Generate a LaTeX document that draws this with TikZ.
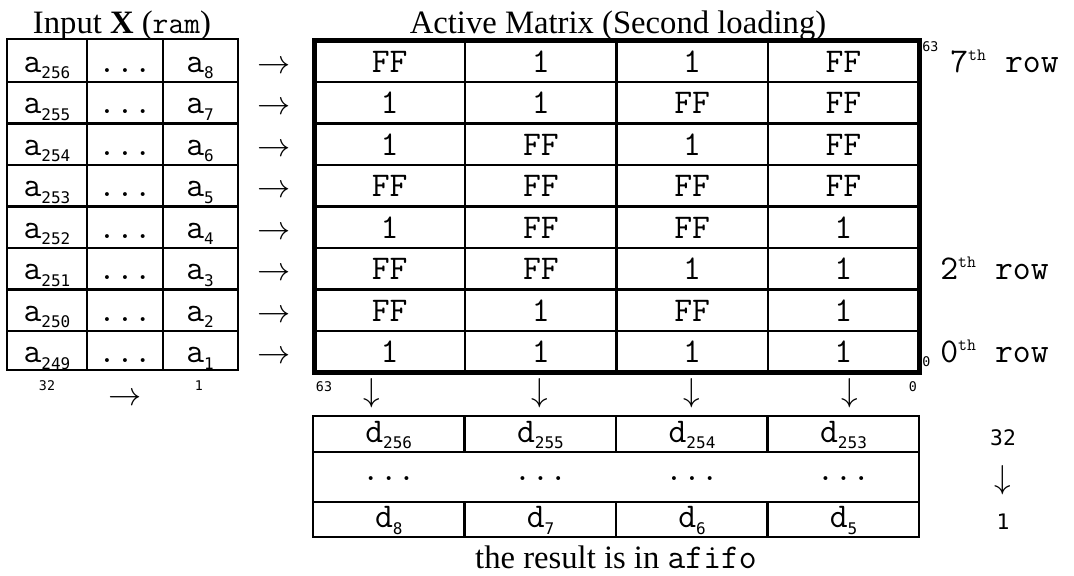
\documentclass[tikz,border=0pt]{standalone}
\usepackage{fontspec}
\setmainfont{Liberation Serif}
\newfontfamily\digitfont{DejaVu Sans Mono}
\newcommand\mono{\ttfamily}
\newcommand\cellfont{\ttfamily\fontsize{26}{26}\selectfont}
\newcommand\titlefont{\fontsize{24.5}{24.5}\selectfont}
\newcommand\idx[2]{#1\raisebox{-5pt}{\digitfont\fontsize{12}{12}\selectfont #2}}
\newcommand\tinynum[1]{{\digitfont\fontsize{10}{10}\selectfont #1}}
\newcommand\rowlabel[1]{#1\raisebox{9pt}{\ttfamily\fontsize{13}{13}\selectfont th}\hspace{0.55em}row}

\begin{document}
\begin{tikzpicture}[x=0.75pt, y=-0.75pt,
  thinline/.style={line width=1.6pt},
  thickline/.style={line width=3.75pt},
  celltext/.style={font=\cellfont, inner sep=0pt, anchor=base},
  symb/.style={font=\fontsize{26}{26}\selectfont, inner sep=0pt},
  smalllabel/.style={inner sep=0pt},
  title/.style={font=\titlefont, inner sep=0pt, anchor=base}]

\useasboundingbox (0,0) rectangle (1074,575);

% ---- titles ----
\node[title] (tin) at (122,33) {Input \textbf{X} ({\ttfamily\fontsize{23}{23}\selectfont ram})};
\node[title] (tmat) at (618,33) {Active Matrix (Second loading)};

% ---- input table ----
\foreach \r/\hi/\lo in {0/256/8,1/255/7,2/254/6,3/253/5,4/252/4,5/251/3,6/250/2,7/249/1}{
  \pgfmathsetmacro\yc{61.25+\r*41.5}
  \pgfmathsetmacro\yb{\yc+11}
  \node[celltext] (a\r) at (47,\yb) {\idx{a}{\hi}};
  \node[celltext] (dots\r) at (125,\yb) {...};
  \node[celltext] (b\r) at (200,\yb) {\idx{a}{\lo}};
  \node[symb] (ar\r) at (274,\yc+6) {$\rightarrow$};
}
\draw[thinline] (7,39) rectangle (238,370);
\draw[thinline] (87,39) -- (87,370) (163,39) -- (163,370);
\foreach \k in {0,...,6}{
  \draw[thinline] (7,82+\k*41.5) -- (238,82+\k*41.5);
}
\node[smalllabel] (in32) at (47,386) {\tinynum{32}};
\node[symb] (inarrow) at (125,399) {$\rightarrow$};
\node[smalllabel] (in1) at (199,386) {\tinynum{1}};

% ---- active matrix ----
\foreach \r/\ca/\cb/\cc/\cd in {0/FF/1/1/FF,1/1/1/FF/FF,2/1/FF/1/FF,3/FF/FF/FF/FF,
                                4/1/FF/FF/1,5/FF/FF/1/1,6/FF/1/FF/1,7/1/1/1/1}{
  \pgfmathsetmacro\yb{61.25+\r*41.5+11}
  \node[celltext] (m\r-1) at (389.6,\yb) {\ca};
  \node[celltext] (m\r-2) at (540.9,\yb) {\cb};
  \node[celltext] (m\r-3) at (692.1,\yb) {\cc};
  \node[celltext] (m\r-4) at (843.4,\yb) {\cd};
}
\foreach \k in {0,...,6}{
  \draw[thinline] (314,82+\k*41.5) -- (919,82+\k*41.5);
}
\foreach \x in {465.25,616.5,767.75}{
  \draw[thinline] (\x,40.5) -- (\x,372.5);
}
\draw[thickline] (314,40.5) rectangle (919,372.5);

% row labels on the right
\node[smalllabel, anchor=base west] (r63) at (922,51) {\tinynum{63}};
\node[celltext, anchor=base west] (row7) at (950,72.25) {\rowlabel{7}};
\node[celltext, anchor=base west] (row2) at (940,279.75) {\rowlabel{2}};
\node[smalllabel, anchor=base west] (r0) at (922,366) {\tinynum{0}};
\node[celltext, anchor=base west] (row0) at (940,362.75) {\rowlabel{0}};

% column indices and downward arrows
\node[smalllabel] (c63) at (324,387) {\tinynum{63}};
\node[smalllabel] (c0) at (913,387) {\tinynum{0}};
\foreach \i/\x in {1/372,2/540,3/692,4/850}{
  \node[symb] (down\i) at (\x,393) {$\downarrow$};
}

% ---- result table ----
\foreach \i/\x/\hi/\lo in {1/388.75/256/8,2/540.5/255/7,3/692/254/6,4/843.5/253/5}{
  \node[celltext] (d\i) at (\x,442) {\idx{d}{\hi}};
  \node[celltext] (e\i) at (\x,480) {...};
  \node[celltext] (f\i) at (\x,527.5) {\idx{d}{\lo}};
}
\draw[thinline] (313,416) rectangle (919,537);
\draw[thinline] (313,452) -- (919,452) (313,502) -- (919,502);
\foreach \x in {464.5,616,767.5}{
  \draw[thinline] (\x,416) -- (\x,452) (\x,502) -- (\x,537);
}
\node[smalllabel] (o32) at (1003,438) {\digitfont\fontsize{16}{16}\selectfont 32};
\node[symb] (oarrow) at (1003,480) {$\downarrow$};
\node[smalllabel] (o1) at (1003,522) {\digitfont\fontsize{16}{16}\selectfont 1};

\node[title] (result) at (616,568) {the result is in {\ttfamily\fontsize{26}{26}\selectfont afifo}};
\end{tikzpicture}
\end{document}
